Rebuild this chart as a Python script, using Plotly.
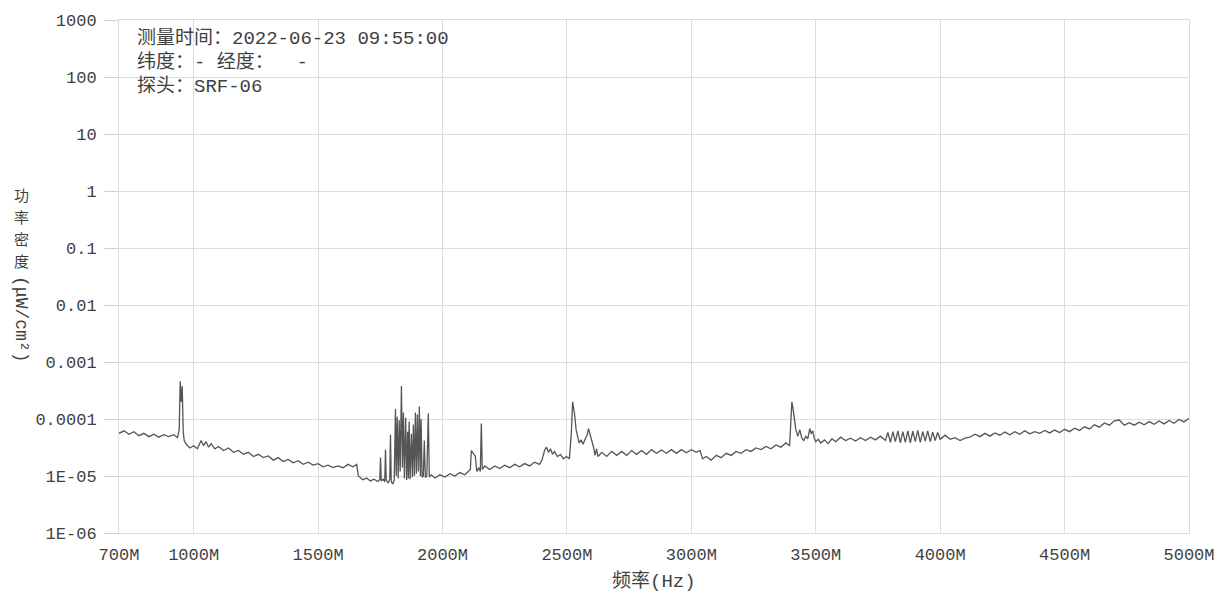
import plotly.graph_objects as go

# ---------------- data (frequency in MHz, power density in uW/cm2) ----------------
f1 = [700, 720, 740, 760, 780, 800, 820, 840, 860, 880, 900, 920,
      935, 942, 946, 950, 954, 958, 962,
      970, 985, 1000, 1015, 1030, 1040, 1050, 1060, 1070, 1085, 1100,
      1120, 1140, 1160, 1180, 1200, 1220, 1240, 1260, 1280, 1300, 1320, 1340, 1360, 1380,
      1400, 1420, 1440, 1460, 1480, 1500, 1520, 1540, 1560, 1580, 1600, 1620, 1640,
      1655]
v1 = [5.6e-5, 6.2e-5, 5.4e-5, 6.0e-5, 5.1e-5, 5.6e-5, 4.9e-5, 5.4e-5, 4.8e-5, 5.3e-5, 4.9e-5, 5.3e-5,
      4.7e-5, 6.5e-5, 4.6e-4, 2.0e-4, 3.8e-4, 6.0e-5, 4.2e-5,
      3.6e-5, 3.1e-5, 3.4e-5, 3.0e-5, 4.2e-5, 3.4e-5, 4.0e-5, 3.2e-5, 3.7e-5, 3.0e-5, 3.3e-5,
      2.8e-5, 3.1e-5, 2.6e-5, 2.8e-5, 2.4e-5, 2.6e-5, 2.2e-5, 2.4e-5, 2.1e-5, 2.25e-5, 1.9e-5, 2.1e-5, 1.8e-5, 1.95e-5,
      1.7e-5, 1.85e-5, 1.6e-5, 1.75e-5, 1.55e-5, 1.65e-5, 1.45e-5, 1.55e-5, 1.4e-5, 1.5e-5, 1.4e-5, 1.6e-5, 1.45e-5,
      1.6e-5]

f2 = [1662, 1680, 1695, 1710, 1725, 1740, 1748, 1751, 1754, 1762, 1768, 1771, 1774,
      1782, 1788, 1791, 1794, 1800, 1806, 1811, 1814, 1818, 1822, 1826, 1830,
      1835, 1839, 1843, 1847, 1852, 1856, 1860, 1863, 1866, 1870, 1875, 1879,
      1883, 1887, 1891, 1895, 1899, 1903, 1907, 1911, 1914, 1918, 1923, 1927,
      1931, 1937, 1943, 1947, 1955]
v2 = [1.0e-5, 8.6e-6, 9.2e-6, 8.2e-6, 8.8e-6, 8.0e-6, 8.6e-6, 2.1e-5, 8.2e-6, 8.8e-6, 7.9e-6, 2.9e-5, 8.4e-6,
      7.6e-6, 8.8e-6, 5.3e-5, 8.0e-6, 7.2e-6, 8.5e-6, 1.5e-4, 1.0e-5, 1.1e-4, 9.0e-6, 9.5e-5, 1.2e-5,
      3.8e-4, 1.4e-5, 1.3e-4, 9.0e-6, 1.05e-4, 8.5e-6, 6.0e-5, 9.0e-6, 9.0e-5, 8.8e-6, 5.5e-5, 9.5e-6,
      8.0e-5, 1.0e-5, 1.3e-4, 1.1e-5, 1.2e-4, 1.2e-5, 1.65e-4, 1.0e-5, 1.0e-4, 9.5e-6, 1.0e-5, 4.2e-5,
      9.4e-6, 1.0e-5, 1.25e-4, 9.6e-6, 1.05e-5]

f3 = [1970, 1990, 2010, 2030, 2050, 2070, 2090,
      2105, 2112, 2116, 2124, 2132, 2138, 2146, 2152, 2156, 2160,
      2170, 2190, 2210, 2230, 2250, 2270, 2290, 2310, 2330, 2350, 2370, 2390,
      2400, 2410, 2418, 2426, 2434, 2442, 2450,
      2462, 2474, 2486, 2498, 2510,
      2518, 2523, 2527, 2531, 2537, 2543, 2549,
      2557, 2565, 2573, 2581, 2587, 2593, 2599,
      2607, 2613, 2619, 2625,
      2640, 2660, 2680, 2700, 2720, 2740, 2760, 2780, 2800, 2820,
      2840, 2860, 2880, 2900, 2920, 2940, 2960, 2980, 3000, 3020,
      3035, 3045,
      3060, 3080, 3100, 3120, 3140, 3160, 3180, 3200, 3220, 3240,
      3260, 3280, 3300, 3320, 3340, 3360, 3380,
      3395]
v3 = [9.2e-6, 1.05e-5, 9.6e-6, 1.1e-5, 1.0e-5, 1.15e-5, 1.05e-5,
      1.25e-5, 1.3e-5, 2.8e-5, 2.5e-5, 2.2e-5, 1.2e-5, 1.4e-5, 1.2e-5, 8.3e-5, 1.3e-5,
      1.5e-5, 1.3e-5, 1.5e-5, 1.35e-5, 1.55e-5, 1.4e-5, 1.6e-5, 1.45e-5, 1.65e-5, 1.5e-5, 1.75e-5, 1.6e-5,
      1.9e-5, 2.8e-5, 3.2e-5, 2.6e-5, 3.0e-5, 2.4e-5, 2.7e-5,
      2.2e-5, 2.4e-5, 2.0e-5, 2.2e-5, 2.0e-5,
      6.0e-5, 2.0e-4, 1.6e-4, 1.2e-4, 6.5e-5, 5.0e-5, 3.8e-5,
      4.3e-5, 3.6e-5, 4.4e-5, 5.2e-5, 6.8e-5, 5.5e-5, 4.4e-5,
      3.2e-5, 2.3e-5, 3.0e-5, 2.2e-5,
      2.6e-5, 2.2e-5, 2.7e-5, 2.3e-5, 2.7e-5, 2.3e-5, 2.8e-5, 2.4e-5, 2.8e-5, 2.4e-5,
      2.9e-5, 2.5e-5, 2.85e-5, 2.5e-5, 2.9e-5, 2.5e-5, 2.9e-5, 2.55e-5, 2.9e-5, 2.6e-5,
      2.8e-5, 2.0e-5,
      2.2e-5, 1.9e-5, 2.3e-5, 2.1e-5, 2.5e-5, 2.3e-5, 2.7e-5, 2.5e-5, 2.9e-5, 2.7e-5,
      3.1e-5, 2.9e-5, 3.3e-5, 3.0e-5, 3.5e-5, 3.2e-5, 3.8e-5,
      3.4e-5]

f4 = [3400, 3404, 3408, 3414, 3420, 3428, 3436, 3444, 3452, 3460,
      3468, 3476, 3482, 3488, 3494, 3500, 3510, 3520, 3535, 3550,
      3565, 3580, 3600, 3620, 3640, 3660, 3680, 3700, 3720, 3740,
      3760, 3780,
      3790, 3800, 3810, 3820, 3830, 3840, 3850, 3860, 3870, 3880, 3890,
      3900, 3910, 3920, 3930, 3940, 3950, 3960, 3970, 3980, 3990, 4000,
      4020, 4040, 4060, 4080, 4100, 4120, 4140, 4160, 4180, 4200,
      4220, 4240, 4260, 4280, 4300, 4320, 4340, 4360, 4380, 4400,
      4420, 4440, 4460, 4480, 4500, 4520, 4540, 4560, 4580, 4600,
      4620, 4640, 4660, 4680, 4700, 4720, 4740, 4760, 4780, 4800,
      4820, 4840, 4860, 4880, 4900, 4920, 4940, 4960, 4980, 5000]
v4 = [8.0e-5, 2.0e-4, 1.6e-4, 9.0e-5, 6.5e-5, 5.0e-5, 6.5e-5, 4.6e-5, 4.2e-5, 5.0e-5,
      4.5e-5, 6.8e-5, 5.5e-5, 6.2e-5, 4.6e-5, 4.0e-5, 4.4e-5, 3.8e-5, 4.3e-5, 3.7e-5,
      4.5e-5, 4.0e-5, 4.8e-5, 4.2e-5, 4.6e-5, 4.1e-5, 4.7e-5, 4.2e-5, 4.8e-5, 4.3e-5,
      5.0e-5, 4.2e-5,
      5.8e-5, 3.9e-5, 6.0e-5, 4.0e-5, 6.2e-5, 3.8e-5, 6.0e-5, 3.9e-5, 6.2e-5, 3.8e-5, 6.1e-5,
      4.0e-5, 6.3e-5, 3.9e-5, 6.0e-5, 4.1e-5, 6.2e-5, 4.0e-5, 5.9e-5, 4.2e-5, 5.8e-5, 4.4e-5,
      5.2e-5, 4.4e-5, 4.7e-5, 4.2e-5, 4.6e-5, 4.8e-5, 5.4e-5, 4.9e-5, 5.6e-5, 5.0e-5,
      5.7e-5, 5.2e-5, 5.9e-5, 5.3e-5, 6.0e-5, 5.4e-5, 6.2e-5, 5.5e-5, 6.0e-5, 5.6e-5,
      6.3e-5, 5.7e-5, 6.4e-5, 5.8e-5, 6.6e-5, 6.0e-5, 6.9e-5, 6.3e-5, 7.3e-5, 6.7e-5,
      7.9e-5, 7.2e-5, 8.5e-5, 7.8e-5, 9.3e-5, 9.6e-5, 7.8e-5, 8.6e-5, 7.8e-5, 8.8e-5,
      7.9e-5, 9.0e-5, 8.1e-5, 9.2e-5, 8.2e-5, 9.4e-5, 8.4e-5, 9.8e-5, 8.9e-5, 1.02e-4]

x_tick_vals = [700, 1000, 1500, 2000, 2500, 3000, 3500, 4000, 4500, 5000]
x_tick_text = ["700M", "1000M", "1500M", "2000M", "2500M", "3000M", "3500M", "4000M", "4500M", "5000M"]
y_tick_vals = [1e-6, 1e-5, 1e-4, 1e-3, 1e-2, 1e-1, 1, 10, 100, 1000]
y_tick_text = ["1E-06", "1E-05", "0.0001", "0.001", "0.01", "0.1", "1", "10", "100", "1000"]

info_lines = ["测量时间：2022-06-23 09:55:00", "纬度：- 经度：  -", "探头：SRF-06"]
y_title_cjk = ["功", "率", "密", "度"]
y_title_unit = "(μW/cm²)"
x_title = "频率(Hz)"

freq = f1 + f2 + f3 + f4
dens = v1 + v2 + v3 + v4

# ---------------- figure ----------------
W, H = 1227, 599
L, R, T, B = 119, 36, 17, 66
PW, PH = W - L - R, H - T - B

def px(x):
    return (x - L) / PW

def py(y):
    return (H - B - y) / PH

MONO = "Liberation Mono, Noto Sans CJK SC"
TXT = "#3f3f3f"
GRID = "#dcdcdc"

fig = go.Figure(go.Scatter(x=freq, y=dens, mode="lines",
                           line=dict(color="#555555", width=1.3),
                           hoverinfo="skip"))

fig.update_layout(
    width=W, height=H,
    margin=dict(l=L, r=R, t=T, b=B, pad=0),
    paper_bgcolor="white", plot_bgcolor="white",
    showlegend=False,
    font=dict(family=MONO, size=17, color=TXT),
)

fig.update_xaxes(
    range=[700, 5000], tickmode="array", tickvals=x_tick_vals, ticktext=x_tick_text,
    showgrid=True, gridcolor=GRID, gridwidth=1, zeroline=False,
    showline=True, linecolor=GRID, linewidth=1, mirror=True,
    ticks="", ticklabelstandoff=6,
    tickfont=dict(family=MONO, size=17, color=TXT),
)
fig.update_yaxes(
    type="log", range=[-6, 3], tickmode="array", tickvals=y_tick_vals, ticktext=y_tick_text,
    showgrid=True, gridcolor=GRID, gridwidth=1, zeroline=False,
    showline=True, linecolor=GRID, linewidth=1, mirror=True,
    ticks="outside", ticklen=14, tickcolor="#cfcfcf", tickwidth=1, ticklabelstandoff=4,
    tickfont=dict(family=MONO, size=17, color=TXT),
)

annotations = []
for i, line in enumerate(info_lines):
    annotations.append(dict(text=line, xref="paper", yref="paper", x=px(135), y=py(36 + 24 * i),
                            xanchor="left", yanchor="middle", showarrow=False,
                            font=dict(family=MONO, size=19, color=TXT)))
for i, ch in enumerate(y_title_cjk):
    annotations.append(dict(text=ch, xref="paper", yref="paper", x=px(21), y=py(193 + 22 * i),
                            xanchor="center", yanchor="middle", showarrow=False,
                            font=dict(family="Noto Sans CJK SC", size=15, color=TXT)))
annotations.append(dict(text=y_title_unit, xref="paper", yref="paper", x=px(21), y=py(318),
                        xanchor="center", yanchor="middle", textangle=90, showarrow=False,
                        font=dict(family=MONO, size=18, color=TXT)))
annotations.append(dict(text=x_title, xref="paper", yref="paper", x=px(655), y=py(582),
                        xanchor="center", yanchor="middle", showarrow=False,
                        font=dict(family=MONO, size=19, color=TXT)))
fig.update_layout(annotations=annotations)

fig.write_html("out.html", config={"displayModeBar": False},
               post_script="document.body.style.margin='0';")
